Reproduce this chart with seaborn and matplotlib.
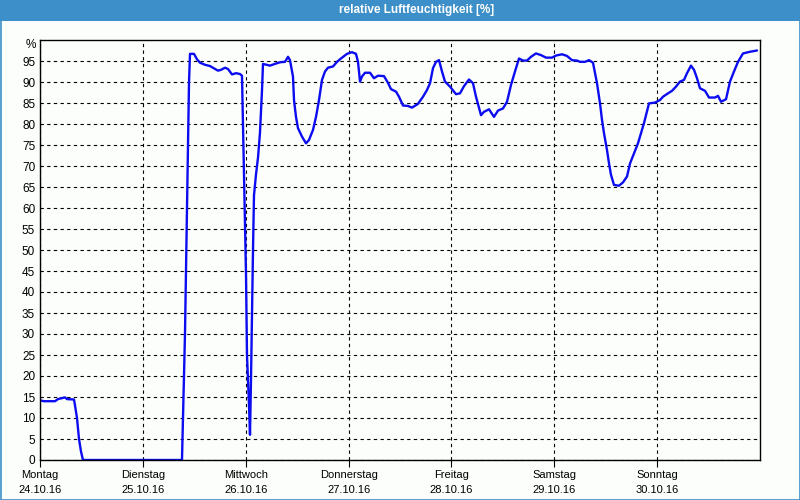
import matplotlib
matplotlib.use("Agg")
import matplotlib.pyplot as plt
from matplotlib.patches import Rectangle
import seaborn as sns
import pandas as pd

# hours since Monday 24.10.16 00:00
hours = [0, 0.93, 3.5, 4.2, 5.83, 6.3, 7.93, 8.17, 8.63, 9.1, 9.57, 10.03,
         33.13, 33.37, 33.83, 34.3, 34.77, 35.0, 35.93, 36.63, 37.33, 38.5,
         39.67, 40.83, 41.53, 42.23, 43.17, 43.87, 44.8, 45.73, 46.67, 47.13,
         47.37, 47.6, 47.83, 48.07, 48.3, 48.53, 48.77, 49.0, 49.23, 49.47,
         49.7, 49.93, 50.4, 50.87, 51.33, 51.57, 51.8, 52.03, 53.67, 55.07,
         56.0, 57.17, 57.87, 58.33, 59.03, 59.27, 59.73, 60.2, 61.13, 62.07,
         62.77, 63.7, 64.4, 65.1, 65.8, 66.5, 67.2, 68.37, 69.3, 70.23, 71.63,
         72.8, 73.73, 74.2, 74.67, 75.13, 75.83, 77.0, 77.93, 78.87, 80.27,
         81.2, 81.9, 83.07, 83.77, 84.7, 85.87, 86.8, 88.2, 89.37, 90.3, 91.0,
         91.7, 92.4, 93.1, 93.8, 94.5, 95.67, 97.07, 98.0, 98.93, 100.1,
         101.03, 101.73, 102.9, 103.6, 104.77, 105.93, 106.87, 108.03, 108.97,
         109.9, 110.83, 111.77, 112.7, 113.63, 114.57, 115.73, 116.9, 118.07,
         119.47, 120.4, 121.8, 122.97, 124.13, 125.3, 126.0, 127.17, 128.1,
         129.03, 129.5, 129.97, 130.67, 131.13, 131.6, 132.3, 132.77, 133.23,
         133.93, 135.1, 136.03, 136.97, 137.67, 138.6, 139.53, 140.23, 140.93,
         141.4, 142.1, 143.5, 144.67, 145.37, 146.53, 147.47, 148.4, 149.33,
         150.27, 150.97, 151.9, 152.6, 153.3, 154.0, 155.17, 156.1, 157.5,
         158.2, 158.9, 160.07, 161.0, 161.93, 162.87, 164.03, 165.67, 167.3]

humidity = [14.2, 14.0, 14.0, 14.5, 14.9, 14.5, 14.4, 13.0, 10.0, 5.0, 2.0, 0,
            0, 10, 30, 60, 90, 96.7, 96.7, 95.4, 94.6, 94.1,
            93.8, 93.1, 92.7, 92.9, 93.4, 93.1, 91.8, 92.1, 91.9, 91.5,
            80, 68, 56, 44, 25, 19, 13, 6, 19, 35,
            50, 63, 68, 72, 78, 83, 88, 94.3, 93.9, 94.4,
            94.7, 94.8, 96.0, 95.2, 91.3, 85.7, 81.7, 79, 77, 75.4,
            76.2, 78.6, 81.7, 85.7, 90.5, 92.5, 93.4, 93.7, 94.8, 95.6, 96.7,
            97.1, 96.7, 94.8, 90.1, 91.3, 92.2, 92.2, 90.9, 91.5, 91.4,
            89.8, 88.3, 87.7, 86.5, 84.4, 84.3, 83.9, 84.8, 86.5, 88.1, 89.7,
            93.3, 94.8, 95.2, 92.5, 90.1, 88.9, 87.1, 87.3, 89.0, 90.6,
            89.7, 86.5, 82.1, 82.9, 83.5, 81.7, 83.2, 83.7, 85.3,
            89.3, 92.5, 95.6, 95.1, 95.1, 96.0, 96.8, 96.4, 95.8,
            95.8, 96.3, 96.6, 96.2, 95.2, 95.1, 94.8, 94.8, 95.2,
            94.6, 92.1, 89.7, 84.9, 81, 77.8, 73.8, 70.6, 67.9,
            65.5, 65.3, 66.1, 67.5, 70.6, 73, 75.4, 77.8, 80.2,
            82.1, 84.9, 85.1, 85.7, 86.5, 87.3, 87.9, 88.9, 90.1,
            90.5, 92.1, 93.9, 92.9, 90.9, 88.5, 87.9, 86.3, 86.3,
            86.7, 85.3, 85.9, 90.1, 92.5, 94.8, 96.8, 97.2, 97.5]

day_names = ["Montag", "Dienstag", "Mittwoch", "Donnerstag", "Freitag", "Samstag", "Sonntag"]
day_dates = ["24.10.16", "25.10.16", "26.10.16", "27.10.16", "28.10.16", "29.10.16", "30.10.16"]
y_ticks = list(range(0, 100, 5))
title = "relative Luftfeuchtigkeit [%]"

sns.set_style("white")
plt.rcParams['font.family'] = ['Liberation Sans', 'DejaVu Sans']
plt.rcParams['text.color'] = 'black'
plt.rcParams['xtick.color'] = 'black'
plt.rcParams['ytick.color'] = 'black'
plt.rcParams['xtick.labelcolor'] = 'black'
plt.rcParams['ytick.labelcolor'] = 'black'

bg = '#fbfefb'
frame_blue = '#3c8fc8'
fig = plt.figure(figsize=(8, 5), dpi=100, facecolor=bg)
ax = fig.add_axes([40/800, 40/500, 720/800, 420/500])
ax.set_facecolor(bg)

df = pd.DataFrame({"h": hours, "v": humidity})
sns.lineplot(data=df, x="h", y="v", ax=ax, color='#0c0cf0', lw=1.7, sort=False)

ax.set_xlim(0, 168)
ax.set_ylim(0, 100)
ax.set_xticks([24 * i for i in range(7)])
ax.set_xticklabels([f"{n}\n{d}" for n, d in zip(day_names, day_dates)],
                   fontsize=8, linespacing=1.6, color='black')
ax.set_yticks(y_ticks)
ax.set_yticklabels([str(t) for t in y_ticks], fontsize=8.5, color='black')
ax.tick_params(axis='x', length=5, width=0.8, color='black', pad=2.5, direction='out', bottom=True)
ax.tick_params(axis='y', length=0, pad=3.5)
ax.grid(True, color='black', linestyle=(0, (3, 3)), linewidth=0.8)
ax.set_axisbelow(True)
for s in ax.spines.values():
    s.set_color('black')
    s.set_linewidth(1.0)
    s.set_visible(True)
ax.set_xlabel("")
ax.set_ylabel("")
ax.text(-0.005, 98.7, "%", transform=ax.get_yaxis_transform(), ha='right', va='center',
        fontsize=8.5, color='black')

# title bar and frame
fig.patches.append(Rectangle((0, 1 - 21/500), 1, 21/500, transform=fig.transFigure,
                             facecolor=frame_blue, edgecolor='none', zorder=0))
fig.patches.append(Rectangle((0.5/800, 0.5/500), 799/800, 499/500, transform=fig.transFigure,
                             facecolor='none', edgecolor=frame_blue, lw=1.2, zorder=1))
fig.text(417/800, 1 - 10.5/500, title, color='white', fontsize=8.5, fontweight='bold',
         ha='center', va='center')

fig.savefig("out.png", dpi=100, facecolor=bg)
